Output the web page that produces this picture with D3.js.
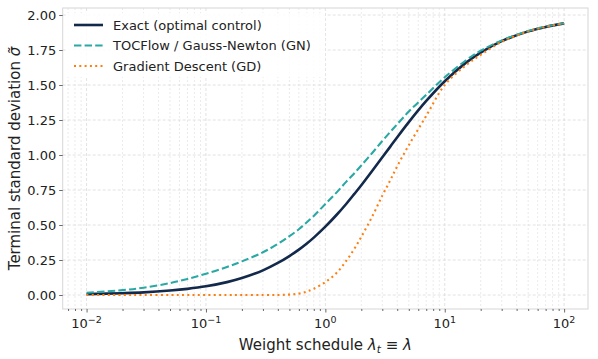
<!DOCTYPE html>
<html>
<head>
<meta charset="utf-8">
<script src="https://cdn.jsdelivr.net/npm/d3@7"></script>
<style>
  body { margin: 0; background: #fff; }
  svg { font-family: "DejaVu Sans", sans-serif; }
</style>
</head>
<body>
<div id="chart"></div>
<script>
// values
var lambdas = [0.01, 0.02, 0.03, 0.05, 0.07, 0.1, 0.15, 0.2, 0.3, 0.4, 0.5, 0.6, 0.7, 0.8,
  1, 1.25, 1.5, 1.75, 2, 2.5, 3, 3.5, 4, 5, 7, 10, 15, 20, 30, 50, 70, 100];
var exactSigma = [0.006, 0.013, 0.019, 0.032, 0.044, 0.062, 0.092, 0.121, 0.176, 0.229, 0.278, 0.324, 0.368, 0.410,
  0.488, 0.575, 0.652, 0.722, 0.784, 0.893, 0.984, 1.060, 1.127, 1.235, 1.386, 1.527, 1.658, 1.732, 1.813, 1.883, 1.915, 1.940];
var gnSigma = [0.016, 0.035, 0.052, 0.085, 0.115, 0.152, 0.200, 0.240, 0.305, 0.365, 0.420, 0.470, 0.520, 0.565,
  0.650, 0.735, 0.810, 0.870, 0.925, 1.020, 1.100, 1.165, 1.220, 1.310, 1.430, 1.555, 1.675, 1.745, 1.818, 1.886, 1.917, 1.941];
var gdSigma = [0, 0, 0, 0, 0, 0, 0, 0, 0, 0, 0.003, 0.010, 0.025, 0.045,
  0.092, 0.160, 0.245, 0.330, 0.415, 0.570, 0.710, 0.820, 0.920, 1.070, 1.280, 1.500, 1.640, 1.715, 1.808, 1.882, 1.915, 1.940];
var seriesNames = ["Exact (optimal control)", "TOCFlow / Gauss-Newton (GN)", "Gradient Descent (GD)"];
var yTicks = [0, 0.25, 0.5, 0.75, 1, 1.25, 1.5, 1.75, 2];
var xTicks = [0.01, 0.1, 1, 10, 100];
var xTickExp = ["\u22122", "\u22121", "0", "1", "2"];

var width = 598,
  height = 359;
var plotLeft = 62.7, plotRight = 588, plotTop = 8, plotBottom = 309;

var svg = d3.select("#chart").append("svg")
  .attr("width", width)
  .attr("height", height);

var x = d3.scaleLog()
  .domain([Math.pow(10, -2.2), Math.pow(10, 2.2)])
  .range([plotLeft, plotRight]);
var y = d3.scaleLinear()
  .domain([-0.1, 2.05])
  .range([plotBottom, plotTop]);

// minor x positions (2..9 per decade) inside the domain
var minorX = [];
[0.001, 0.01, 0.1, 1, 10, 100].forEach(function(dec) {
  for (var k = 2; k <= 9; k++) {
    var v = dec * k;
    if (v > x.domain()[0] && v < x.domain()[1]) minorX.push(v);
  }
});

var grid = svg.append("g");
grid.selectAll(".minor").data(minorX).enter().append("line")
  .attr("x1", function(d) { return x(d); })
  .attr("x2", function(d) { return x(d); })
  .attr("y1", plotTop).attr("y2", plotBottom)
  .attr("stroke", "#e3e3e3")
  .attr("stroke-width", 0.7)
  .attr("stroke-dasharray", "2,2");
grid.selectAll(".majx").data(xTicks).enter().append("line")
  .attr("x1", function(d) { return x(d); })
  .attr("x2", function(d) { return x(d); })
  .attr("y1", plotTop).attr("y2", plotBottom)
  .attr("stroke", "#dadada")
  .attr("stroke-width", 0.8)
  .attr("stroke-dasharray", "3,2");
grid.selectAll(".majy").data(yTicks).enter().append("line")
  .attr("x1", plotLeft).attr("x2", plotRight)
  .attr("y1", function(d) { return y(d); })
  .attr("y2", function(d) { return y(d); })
  .attr("stroke", "#dadada")
  .attr("stroke-width", 0.8)
  .attr("stroke-dasharray", "3,2");

// frame
svg.append("rect")
  .attr("x", plotLeft).attr("y", plotTop)
  .attr("width", plotRight - plotLeft).attr("height", plotBottom - plotTop)
  .attr("fill", "none")
  .attr("stroke", "#d6d6d6")
  .attr("stroke-width", 1);

// axes
var yAxis = svg.append("g")
  .attr("transform", "translate(" + plotLeft + ",0)")
  .call(d3.axisLeft(y).tickValues(yTicks).tickFormat(d3.format(".2f")).tickSize(3.5).tickPadding(3));
var xAxis = svg.append("g")
  .attr("transform", "translate(0," + plotBottom + ")")
  .call(d3.axisBottom(x).tickValues(xTicks).tickFormat("").tickSize(3.5));
var xMinor = svg.append("g")
  .attr("transform", "translate(0," + plotBottom + ")")
  .call(d3.axisBottom(x).tickValues(minorX).tickFormat("").tickSize(2));
[yAxis, xAxis, xMinor].forEach(function(a) {
  a.select(".domain").remove();
  a.selectAll(".tick line").attr("stroke", "#444").attr("stroke-width", 0.8);
});
yAxis.selectAll("text")
  .attr("font-size", 13)
  .attr("fill", "#222")
  .attr("font-family", "DejaVu Sans");

// x tick labels with superscript exponents
var xl = svg.append("g");
xTicks.forEach(function(t, i) {
  var txt = xl.append("text")
    .attr("x", x(t))
    .attr("y", 328)
    .attr("text-anchor", "middle")
    .attr("font-size", 13)
    .attr("fill", "#222");
  txt.append("tspan").text("10");
  txt.append("tspan").attr("dy", -5).attr("font-size", 9.5).text(xTickExp[i]);
});

// axis labels
var xLab = svg.append("text")
  .attr("x", (plotLeft + plotRight) / 2)
  .attr("y", 350)
  .attr("text-anchor", "middle")
  .attr("font-size", 15)
  .attr("fill", "#222");
xLab.append("tspan").text("Weight schedule ");
xLab.append("tspan").attr("font-style", "italic").text("\u03bb");
xLab.append("tspan").attr("font-style", "italic").attr("font-size", 10.5).attr("dy", 3).text("t");
xLab.append("tspan").attr("dy", -3).text(" \u2261 ");
xLab.append("tspan").attr("font-style", "italic").text("\u03bb");

var yLab = svg.append("text")
  .attr("transform", "translate(20," + ((plotTop + plotBottom) / 2) + ") rotate(-90)")
  .attr("text-anchor", "middle")
  .attr("font-size", 15)
  .attr("fill", "#222");
yLab.append("tspan").text("Terminal standard deviation ");
yLab.append("tspan").attr("font-style", "italic").text("\u03c3\u0303");

// curves
var series = [
  { values: exactSigma, color: "#13294b", width: 2.6, dash: null },
  { values: gnSigma, color: "#2aa8a4", width: 2.1, dash: "7.4,3.2" },
  { values: gdSigma, color: "#ff7f0e", width: 2.1, dash: "2,3.3" }
];
var line = d3.line()
  .x(function(d) { return x(d[0]); })
  .y(function(d) { return y(d[1]); })
  .curve(d3.curveCatmullRom.alpha(0.5));

series.forEach(function(s) {
  svg.append("path")
    .datum(lambdas.map(function(l, i) { return [l, s.values[i]]; }))
    .attr("fill", "none")
    .attr("stroke", s.color)
    .attr("stroke-width", s.width)
    .attr("stroke-dasharray", s.dash)
    .attr("d", line);
});

// legend
var legend = svg.append("g");
legend.append("rect")
  .attr("x", 67).attr("y", 13)
  .attr("width", 258).attr("height", 64)
  .attr("fill", "#fff")
  .attr("fill-opacity", 0.85)
  .attr("stroke", "none");
series.forEach(function(s, i) {
  var ly = 25 + i * 20.5;
  legend.append("line")
    .attr("x1", 74).attr("x2", 103)
    .attr("y1", ly).attr("y2", ly)
    .attr("stroke", s.color)
    .attr("stroke-width", s.width)
    .attr("stroke-dasharray", s.dash);
  legend.append("text")
    .attr("x", 113)
    .attr("y", ly)
    .attr("dy", "0.35em")
    .attr("font-size", 13)
    .attr("fill", "#222")
    .text(seriesNames[i]);
});
</script>
</body>
</html>
